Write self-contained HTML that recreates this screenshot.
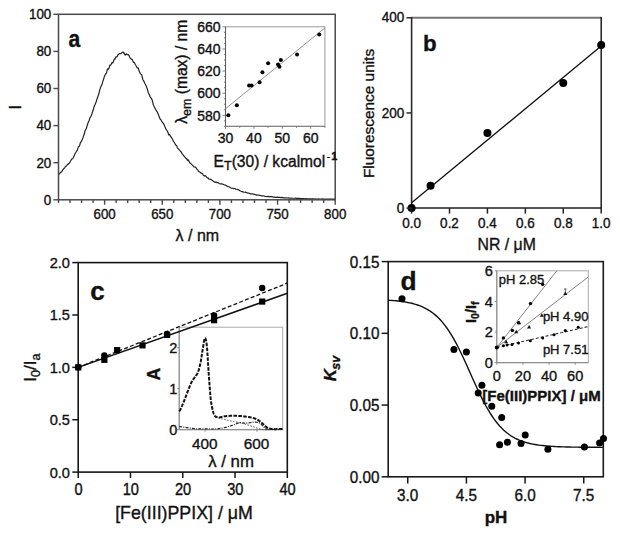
<!DOCTYPE html>
<html><head><meta charset="utf-8"><style>
html,body{margin:0;padding:0;background:#fff;}
body{width:620px;height:536px;overflow:hidden;}
svg{display:block;font-family:"Liberation Sans",sans-serif;}
text{stroke:#111;stroke-width:0.35px;paint-order:stroke;}
</style></head><body>
<svg width="620" height="536" viewBox="0 0 620 536">
<rect width="620" height="536" fill="#fff"/>
<polyline points="58.50,174.42 59.54,173.91 60.58,172.28 61.61,171.86 62.65,169.95 63.69,168.82 64.73,167.89 65.42,166.40 66.46,165.99 67.49,164.37 68.53,163.85 69.57,162.73 70.61,161.05 71.64,159.14 72.68,158.80 73.26,157.76 74.29,155.40 75.33,153.01 76.37,151.65 77.41,149.87 78.45,146.67 79.48,146.06 80.52,142.22 81.10,141.95 82.13,139.73 83.17,137.16 84.21,134.06 85.25,130.22 86.29,128.67 87.32,124.98 88.36,122.02 88.94,121.06 89.97,117.90 91.01,116.19 92.05,113.42 93.09,110.29 94.13,106.39 95.16,104.22 96.20,101.77 96.78,99.61 97.81,96.70 98.85,93.83 99.89,89.34 100.93,86.43 101.96,84.59 103.00,80.86 103.35,80.08 104.39,76.45 105.42,74.26 106.46,73.04 107.50,68.83 108.54,69.17 109.57,66.48 109.80,65.14 110.84,65.05 111.88,62.68 112.92,62.83 113.96,59.98 114.99,58.61 114.99,59.16 116.03,56.74 117.07,56.88 118.11,54.45 119.03,53.90 120.07,53.49 121.10,53.61 122.14,52.40 123.18,52.15 124.22,53.70 124.22,53.14 125.25,55.23 126.29,53.82 127.33,54.74 128.14,54.59 129.17,55.87 130.21,58.35 131.25,59.07 132.29,59.35 133.32,62.41 134.36,62.38 135.17,64.22 136.21,66.04 137.24,67.95 138.28,67.82 139.32,71.64 140.36,73.55 140.70,73.96 141.74,74.88 142.78,79.47 143.82,81.06 144.85,83.46 145.89,85.26 146.93,88.04 147.16,88.49 148.20,92.46 149.23,94.57 150.27,97.16 151.31,98.32 152.35,100.61 153.39,105.02 153.73,105.78 154.77,107.73 155.81,109.83 156.84,111.36 157.88,113.24 158.92,116.08 159.96,118.73 160.99,119.84 161.57,121.06 162.61,122.62 163.65,123.77 164.68,126.28 165.72,128.57 166.76,130.24 167.80,131.96 168.83,134.98 169.41,134.27 170.45,136.18 171.49,137.58 172.52,139.25 173.56,141.50 174.60,142.97 175.64,145.01 176.67,145.61 177.25,147.53 178.29,148.77 179.33,149.81 180.36,151.21 181.40,152.25 182.44,154.09 183.48,155.51 184.51,156.59 185.55,157.96 186.59,158.80 187.63,160.52 187.74,159.34 188.78,160.91 189.82,162.74 190.85,163.68 191.89,164.61 192.93,165.63 193.97,166.99 195.01,166.97 196.04,167.75 197.08,169.42 198.12,170.33 198.12,170.86 199.16,171.73 200.19,172.31 201.23,173.28 202.27,173.43 203.31,175.08 204.34,176.04 205.38,175.68 206.42,176.90 207.46,178.01 208.49,178.17 208.61,178.82 209.65,179.10 210.69,179.31 211.72,180.03 212.76,180.73 213.80,181.66 214.84,182.02 215.07,182.34 216.10,182.12 217.14,182.70 218.18,182.76 219.22,183.51 220.25,183.93 221.29,183.72 222.21,183.94 223.25,184.37 224.29,184.75 225.33,185.09 226.36,185.54 227.40,186.38 228.44,186.51 229.48,187.04 230.52,187.72 231.55,188.10 232.59,188.26 233.63,188.64 233.74,188.33 234.78,188.48 235.82,189.26 236.86,189.24 237.89,189.58 238.93,189.98 239.97,190.79 241.01,191.24 242.04,191.58 243.08,191.93 244.12,192.25 245.16,192.26 245.27,192.11 246.31,192.44 247.35,192.95 248.39,193.11 249.42,193.27 250.46,193.95 251.50,193.84 252.54,193.92 253.57,194.21 254.61,194.43 255.65,194.78 256.69,195.13 256.80,194.82 257.84,195.26 258.88,195.20 259.91,195.28 260.95,195.73 261.99,195.87 263.03,195.75 264.07,195.99 265.10,196.37 266.14,196.51 267.18,196.62 267.18,196.28 268.22,196.43 269.25,196.82 270.29,196.62 271.33,196.64 272.37,196.86 273.40,197.07 274.44,197.06 275.48,197.31 276.52,197.42 277.55,197.12 278.59,197.32 278.71,197.38 279.74,197.30 280.78,197.56 281.82,197.47 282.86,197.55 283.90,197.84 284.93,197.89 285.97,197.93 287.01,198.02 288.05,197.96 289.08,198.14 290.12,198.15 290.24,198.25 291.27,198.04 292.31,198.25 293.35,198.25 294.39,198.25 295.42,198.20 296.46,198.38 297.50,198.27 298.54,198.43 299.57,198.46 300.61,198.50 301.65,198.68 302.69,198.60 303.73,198.71 304.76,198.79 305.80,198.61 306.84,198.81 307.88,198.76 308.91,198.73 309.95,198.80 310.99,198.89 312.03,198.87 312.14,198.86 313.18,198.83 314.22,199.01 315.25,198.92 316.29,199.01 317.33,199.02 318.37,198.93 319.41,199.00 320.44,199.01 321.48,198.98 322.52,198.96 323.56,199.07 324.59,199.04 325.63,199.08 326.67,199.09 327.71,199.06 328.74,199.12 329.78,199.11 330.82,199.13 331.86,199.04 332.89,199.10 333.93,199.07 334.97,199.06 335.20,199.20" fill="none" stroke="#222" stroke-width="1.2" stroke-linejoin="round" />
<rect x="58.5" y="14.3" width="276.7" height="185.5" fill="none" stroke="#4a4a4a" stroke-width="1.5"/>
<line x1="53.40" y1="199.80" x2="58.50" y2="199.80" stroke="#4a4a4a" stroke-width="1.4" />
<text x="51.30" y="204.70" font-size="13.4" text-anchor="end" font-weight="normal" font-style="normal" fill="#111" transform="translate(51.30 204.70) scale(1.0 1.04) translate(-51.30 -204.70)" >0</text>
<line x1="53.40" y1="162.70" x2="58.50" y2="162.70" stroke="#4a4a4a" stroke-width="1.4" />
<text x="51.30" y="167.60" font-size="13.4" text-anchor="end" font-weight="normal" font-style="normal" fill="#111" transform="translate(51.30 167.60) scale(1.0 1.04) translate(-51.30 -167.60)" >20</text>
<line x1="53.40" y1="125.60" x2="58.50" y2="125.60" stroke="#4a4a4a" stroke-width="1.4" />
<text x="51.30" y="130.50" font-size="13.4" text-anchor="end" font-weight="normal" font-style="normal" fill="#111" transform="translate(51.30 130.50) scale(1.0 1.04) translate(-51.30 -130.50)" >40</text>
<line x1="53.40" y1="88.50" x2="58.50" y2="88.50" stroke="#4a4a4a" stroke-width="1.4" />
<text x="51.30" y="93.40" font-size="13.4" text-anchor="end" font-weight="normal" font-style="normal" fill="#111" transform="translate(51.30 93.40) scale(1.0 1.04) translate(-51.30 -93.40)" >60</text>
<line x1="53.40" y1="51.40" x2="58.50" y2="51.40" stroke="#4a4a4a" stroke-width="1.4" />
<text x="51.30" y="56.30" font-size="13.4" text-anchor="end" font-weight="normal" font-style="normal" fill="#111" transform="translate(51.30 56.30) scale(1.0 1.04) translate(-51.30 -56.30)" >80</text>
<line x1="53.40" y1="14.30" x2="58.50" y2="14.30" stroke="#4a4a4a" stroke-width="1.4" />
<text x="51.30" y="19.20" font-size="13.4" text-anchor="end" font-weight="normal" font-style="normal" fill="#111" transform="translate(51.30 19.20) scale(1.0 1.04) translate(-51.30 -19.20)" >100</text>
<line x1="58.50" y1="199.80" x2="58.50" y2="203.00" stroke="#4a4a4a" stroke-width="1.4" />
<line x1="70.03" y1="199.80" x2="70.03" y2="203.00" stroke="#4a4a4a" stroke-width="1.4" />
<line x1="81.56" y1="199.80" x2="81.56" y2="203.00" stroke="#4a4a4a" stroke-width="1.4" />
<line x1="93.09" y1="199.80" x2="93.09" y2="203.00" stroke="#4a4a4a" stroke-width="1.4" />
<line x1="104.62" y1="199.80" x2="104.62" y2="204.70" stroke="#4a4a4a" stroke-width="1.4" />
<text x="104.62" y="219.30" font-size="13.3" text-anchor="middle" font-weight="normal" font-style="normal" fill="#111" transform="translate(104.62 219.30) scale(1.0 1.04) translate(-104.62 -219.30)" >600</text>
<line x1="116.15" y1="199.80" x2="116.15" y2="203.00" stroke="#4a4a4a" stroke-width="1.4" />
<line x1="127.67" y1="199.80" x2="127.67" y2="203.00" stroke="#4a4a4a" stroke-width="1.4" />
<line x1="139.20" y1="199.80" x2="139.20" y2="203.00" stroke="#4a4a4a" stroke-width="1.4" />
<line x1="150.73" y1="199.80" x2="150.73" y2="203.00" stroke="#4a4a4a" stroke-width="1.4" />
<line x1="162.26" y1="199.80" x2="162.26" y2="204.70" stroke="#4a4a4a" stroke-width="1.4" />
<text x="162.26" y="219.30" font-size="13.3" text-anchor="middle" font-weight="normal" font-style="normal" fill="#111" transform="translate(162.26 219.30) scale(1.0 1.04) translate(-162.26 -219.30)" >650</text>
<line x1="173.79" y1="199.80" x2="173.79" y2="203.00" stroke="#4a4a4a" stroke-width="1.4" />
<line x1="185.32" y1="199.80" x2="185.32" y2="203.00" stroke="#4a4a4a" stroke-width="1.4" />
<line x1="196.85" y1="199.80" x2="196.85" y2="203.00" stroke="#4a4a4a" stroke-width="1.4" />
<line x1="208.38" y1="199.80" x2="208.38" y2="203.00" stroke="#4a4a4a" stroke-width="1.4" />
<line x1="219.91" y1="199.80" x2="219.91" y2="204.70" stroke="#4a4a4a" stroke-width="1.4" />
<text x="219.91" y="219.30" font-size="13.3" text-anchor="middle" font-weight="normal" font-style="normal" fill="#111" transform="translate(219.91 219.30) scale(1.0 1.04) translate(-219.91 -219.30)" >700</text>
<line x1="231.44" y1="199.80" x2="231.44" y2="203.00" stroke="#4a4a4a" stroke-width="1.4" />
<line x1="242.97" y1="199.80" x2="242.97" y2="203.00" stroke="#4a4a4a" stroke-width="1.4" />
<line x1="254.50" y1="199.80" x2="254.50" y2="203.00" stroke="#4a4a4a" stroke-width="1.4" />
<line x1="266.02" y1="199.80" x2="266.02" y2="203.00" stroke="#4a4a4a" stroke-width="1.4" />
<line x1="277.55" y1="199.80" x2="277.55" y2="204.70" stroke="#4a4a4a" stroke-width="1.4" />
<text x="277.55" y="219.30" font-size="13.3" text-anchor="middle" font-weight="normal" font-style="normal" fill="#111" transform="translate(277.55 219.30) scale(1.0 1.04) translate(-277.55 -219.30)" >750</text>
<line x1="289.08" y1="199.80" x2="289.08" y2="203.00" stroke="#4a4a4a" stroke-width="1.4" />
<line x1="300.61" y1="199.80" x2="300.61" y2="203.00" stroke="#4a4a4a" stroke-width="1.4" />
<line x1="312.14" y1="199.80" x2="312.14" y2="203.00" stroke="#4a4a4a" stroke-width="1.4" />
<line x1="323.67" y1="199.80" x2="323.67" y2="203.00" stroke="#4a4a4a" stroke-width="1.4" />
<line x1="335.20" y1="199.80" x2="335.20" y2="204.70" stroke="#4a4a4a" stroke-width="1.4" />
<text x="335.20" y="219.30" font-size="13.3" text-anchor="middle" font-weight="normal" font-style="normal" fill="#111" transform="translate(335.20 219.30) scale(1.0 1.04) translate(-335.20 -219.30)" >800</text>
<text transform="translate(20.70 107.40) rotate(-90)" x="0" y="0" font-size="16" text-anchor="middle" font-weight="normal" font-style="normal" fill="#111">I</text>
<text x="197.40" y="241.00" font-size="16" text-anchor="middle" font-weight="normal" font-style="normal" fill="#111" >λ / nm</text>
<text x="68.60" y="47.00" font-size="24" text-anchor="start" font-weight="bold" font-style="normal" fill="#111" transform="translate(68.60 47.00) scale(0.88 1.0) translate(-68.60 -47.00)" >a</text>
<rect x="225.5" y="26.8" width="99.39999999999998" height="99.60000000000001" fill="#fff" stroke="#9a9a9a" stroke-width="1"/>
<line x1="225.50" y1="26.80" x2="225.50" y2="126.40" stroke="#606060" stroke-width="1.1" />
<line x1="225.50" y1="126.40" x2="324.90" y2="126.40" stroke="#858585" stroke-width="1.1" />
<line x1="224.00" y1="126.40" x2="225.50" y2="126.40" stroke="#666" stroke-width="0.8" />
<line x1="224.00" y1="120.87" x2="225.50" y2="120.87" stroke="#666" stroke-width="0.8" />
<line x1="222.50" y1="115.33" x2="225.50" y2="115.33" stroke="#666" stroke-width="0.8" />
<line x1="224.00" y1="109.80" x2="225.50" y2="109.80" stroke="#666" stroke-width="0.8" />
<line x1="224.00" y1="104.27" x2="225.50" y2="104.27" stroke="#666" stroke-width="0.8" />
<line x1="224.00" y1="98.73" x2="225.50" y2="98.73" stroke="#666" stroke-width="0.8" />
<line x1="222.50" y1="93.20" x2="225.50" y2="93.20" stroke="#666" stroke-width="0.8" />
<line x1="224.00" y1="87.67" x2="225.50" y2="87.67" stroke="#666" stroke-width="0.8" />
<line x1="224.00" y1="82.13" x2="225.50" y2="82.13" stroke="#666" stroke-width="0.8" />
<line x1="224.00" y1="76.60" x2="225.50" y2="76.60" stroke="#666" stroke-width="0.8" />
<line x1="222.50" y1="71.07" x2="225.50" y2="71.07" stroke="#666" stroke-width="0.8" />
<line x1="224.00" y1="65.53" x2="225.50" y2="65.53" stroke="#666" stroke-width="0.8" />
<line x1="224.00" y1="60.00" x2="225.50" y2="60.00" stroke="#666" stroke-width="0.8" />
<line x1="224.00" y1="54.47" x2="225.50" y2="54.47" stroke="#666" stroke-width="0.8" />
<line x1="222.50" y1="48.93" x2="225.50" y2="48.93" stroke="#666" stroke-width="0.8" />
<line x1="224.00" y1="43.40" x2="225.50" y2="43.40" stroke="#666" stroke-width="0.8" />
<line x1="224.00" y1="37.87" x2="225.50" y2="37.87" stroke="#666" stroke-width="0.8" />
<line x1="224.00" y1="32.33" x2="225.50" y2="32.33" stroke="#666" stroke-width="0.8" />
<line x1="222.50" y1="26.80" x2="225.50" y2="26.80" stroke="#666" stroke-width="0.8" />
<text x="220.60" y="120.63" font-size="14" text-anchor="end" font-weight="normal" font-style="normal" fill="#111" transform="translate(220.60 120.63) scale(1.0 1.04) translate(-220.60 -120.63)" >580</text>
<text x="220.60" y="98.50" font-size="14" text-anchor="end" font-weight="normal" font-style="normal" fill="#111" transform="translate(220.60 98.50) scale(1.0 1.04) translate(-220.60 -98.50)" >600</text>
<text x="220.60" y="76.37" font-size="14" text-anchor="end" font-weight="normal" font-style="normal" fill="#111" transform="translate(220.60 76.37) scale(1.0 1.04) translate(-220.60 -76.37)" >620</text>
<text x="220.60" y="54.23" font-size="14" text-anchor="end" font-weight="normal" font-style="normal" fill="#111" transform="translate(220.60 54.23) scale(1.0 1.04) translate(-220.60 -54.23)" >640</text>
<text x="220.60" y="32.10" font-size="14" text-anchor="end" font-weight="normal" font-style="normal" fill="#111" transform="translate(220.60 32.10) scale(1.0 1.04) translate(-220.60 -32.10)" >660</text>
<line x1="225.50" y1="126.40" x2="225.50" y2="128.90" stroke="#666" stroke-width="0.8" />
<line x1="239.70" y1="126.40" x2="239.70" y2="127.90" stroke="#666" stroke-width="0.8" />
<line x1="253.90" y1="126.40" x2="253.90" y2="128.90" stroke="#666" stroke-width="0.8" />
<line x1="268.10" y1="126.40" x2="268.10" y2="127.90" stroke="#666" stroke-width="0.8" />
<line x1="282.30" y1="126.40" x2="282.30" y2="128.90" stroke="#666" stroke-width="0.8" />
<line x1="296.50" y1="126.40" x2="296.50" y2="127.90" stroke="#666" stroke-width="0.8" />
<line x1="310.70" y1="126.40" x2="310.70" y2="128.90" stroke="#666" stroke-width="0.8" />
<line x1="324.90" y1="126.40" x2="324.90" y2="127.90" stroke="#666" stroke-width="0.8" />
<text x="225.50" y="143.00" font-size="14" text-anchor="middle" font-weight="normal" font-style="normal" fill="#111" transform="translate(225.50 143.00) scale(1.0 1.04) translate(-225.50 -143.00)" >30</text>
<text x="253.90" y="143.00" font-size="14" text-anchor="middle" font-weight="normal" font-style="normal" fill="#111" transform="translate(253.90 143.00) scale(1.0 1.04) translate(-253.90 -143.00)" >40</text>
<text x="282.30" y="143.00" font-size="14" text-anchor="middle" font-weight="normal" font-style="normal" fill="#111" transform="translate(282.30 143.00) scale(1.0 1.04) translate(-282.30 -143.00)" >50</text>
<text x="310.70" y="143.00" font-size="14" text-anchor="middle" font-weight="normal" font-style="normal" fill="#111" transform="translate(310.70 143.00) scale(1.0 1.04) translate(-310.70 -143.00)" >60</text>
<line x1="225.50" y1="108.69" x2="324.90" y2="27.91" stroke="#888" stroke-width="0.9" />
<circle cx="228.34" cy="115.33" r="2.0" fill="#000"/>
<circle cx="236.86" cy="105.37" r="2.0" fill="#000"/>
<circle cx="249.07" cy="85.45" r="2.0" fill="#000"/>
<circle cx="251.63" cy="85.45" r="2.0" fill="#000"/>
<circle cx="259.58" cy="82.13" r="2.0" fill="#000"/>
<circle cx="262.42" cy="72.17" r="2.0" fill="#000"/>
<circle cx="268.10" cy="63.32" r="2.0" fill="#000"/>
<circle cx="278.04" cy="64.43" r="2.0" fill="#000"/>
<circle cx="279.46" cy="66.64" r="2.0" fill="#000"/>
<circle cx="280.88" cy="60.00" r="2.0" fill="#000"/>
<circle cx="297.07" cy="54.47" r="2.0" fill="#000"/>
<circle cx="319.22" cy="34.55" r="2.0" fill="#000"/>
<text transform="translate(187.30 71.80) rotate(-90)" x="0" y="0" font-size="15.6" text-anchor="middle" font-weight="normal" font-style="normal" fill="#111">λ<tspan font-size="12.5" dy="3.8">em</tspan><tspan dy="-3.8"> (max) / nm</tspan></text>
<text x="213.60" y="167.20" font-size="15.6" text-anchor="start" font-weight="normal" font-style="normal" fill="#111" >E<tspan font-size="12.5" dy="3">T</tspan><tspan dy="-3">(30) / kcalmol</tspan><tspan font-size="10.5" dy="-7.6" dx="1.5">-</tspan><tspan font-size="11" font-weight="bold" dx="1">1</tspan></text>
<line x1="411.60" y1="17.80" x2="601.20" y2="17.80" stroke="#777" stroke-width="1.9" />
<line x1="601.20" y1="16.90" x2="601.20" y2="208.10" stroke="#1e1e1e" stroke-width="1.5" />
<line x1="411.60" y1="208.10" x2="601.95" y2="208.10" stroke="#1e1e1e" stroke-width="1.5" />
<line x1="411.60" y1="16.90" x2="411.60" y2="208.10" stroke="#2a2a2a" stroke-width="1.6" />
<line x1="411.60" y1="202.63" x2="601.20" y2="46.11" stroke="#111" stroke-width="1.3" />
<circle cx="411.60" cy="208.10" r="4" fill="#000"/>
<circle cx="430.56" cy="185.74" r="4" fill="#000"/>
<circle cx="487.44" cy="132.93" r="4" fill="#000"/>
<circle cx="563.28" cy="82.98" r="4" fill="#000"/>
<circle cx="601.20" cy="44.92" r="4" fill="#000"/>
<line x1="406.50" y1="208.10" x2="411.60" y2="208.10" stroke="#2a2a2a" stroke-width="1.5" />
<text x="404.20" y="212.70" font-size="13.5" text-anchor="end" font-weight="normal" font-style="normal" fill="#111" transform="translate(404.20 212.70) scale(1.0 1.06) translate(-404.20 -212.70)" >0</text>
<line x1="406.50" y1="112.95" x2="411.60" y2="112.95" stroke="#2a2a2a" stroke-width="1.5" />
<text x="404.20" y="117.55" font-size="13.5" text-anchor="end" font-weight="normal" font-style="normal" fill="#111" transform="translate(404.20 117.55) scale(1.0 1.06) translate(-404.20 -117.55)" >200</text>
<line x1="406.50" y1="17.80" x2="411.60" y2="17.80" stroke="#2a2a2a" stroke-width="1.5" />
<text x="404.20" y="22.40" font-size="13.5" text-anchor="end" font-weight="normal" font-style="normal" fill="#111" transform="translate(404.20 22.40) scale(1.0 1.06) translate(-404.20 -22.40)" >400</text>
<line x1="411.60" y1="208.10" x2="411.60" y2="213.60" stroke="#222" stroke-width="1.5" />
<text x="411.60" y="227.90" font-size="13.5" text-anchor="middle" font-weight="normal" font-style="normal" fill="#111" transform="translate(411.60 227.90) scale(1.0 1.06) translate(-411.60 -227.90)" >0.0</text>
<line x1="449.52" y1="208.10" x2="449.52" y2="213.60" stroke="#222" stroke-width="1.5" />
<text x="449.52" y="227.90" font-size="13.5" text-anchor="middle" font-weight="normal" font-style="normal" fill="#111" transform="translate(449.52 227.90) scale(1.0 1.06) translate(-449.52 -227.90)" >0.2</text>
<line x1="487.44" y1="208.10" x2="487.44" y2="213.60" stroke="#222" stroke-width="1.5" />
<text x="487.44" y="227.90" font-size="13.5" text-anchor="middle" font-weight="normal" font-style="normal" fill="#111" transform="translate(487.44 227.90) scale(1.0 1.06) translate(-487.44 -227.90)" >0.4</text>
<line x1="525.36" y1="208.10" x2="525.36" y2="213.60" stroke="#222" stroke-width="1.5" />
<text x="525.36" y="227.90" font-size="13.5" text-anchor="middle" font-weight="normal" font-style="normal" fill="#111" transform="translate(525.36 227.90) scale(1.0 1.06) translate(-525.36 -227.90)" >0.6</text>
<line x1="563.28" y1="208.10" x2="563.28" y2="213.60" stroke="#222" stroke-width="1.5" />
<text x="563.28" y="227.90" font-size="13.5" text-anchor="middle" font-weight="normal" font-style="normal" fill="#111" transform="translate(563.28 227.90) scale(1.0 1.06) translate(-563.28 -227.90)" >0.8</text>
<line x1="601.20" y1="208.10" x2="601.20" y2="213.60" stroke="#222" stroke-width="1.5" />
<text x="601.20" y="227.90" font-size="13.5" text-anchor="middle" font-weight="normal" font-style="normal" fill="#111" transform="translate(601.20 227.90) scale(1.0 1.06) translate(-601.20 -227.90)" >1.0</text>
<text transform="translate(373.90 113.50) rotate(-90)" x="0" y="0" font-size="15.4" text-anchor="middle" font-weight="normal" font-style="normal" fill="#111">Fluorescence units</text>
<text x="506.70" y="250.30" font-size="15.8" text-anchor="middle" font-weight="normal" font-style="normal" fill="#111" >NR / μM</text>
<text x="422.90" y="50.50" font-size="22.3" text-anchor="start" font-weight="bold" font-style="normal" fill="#111" >b</text>
<rect x="78.2" y="262.6" width="209.10000000000002" height="209.5" fill="none" stroke="#151515" stroke-width="1.6"/>
<line x1="72.30" y1="472.10" x2="78.20" y2="472.10" stroke="#151515" stroke-width="1.5" />
<text x="70.00" y="477.60" font-size="14.6" text-anchor="end" font-weight="normal" font-style="normal" fill="#111" >0.0</text>
<line x1="72.30" y1="419.73" x2="78.20" y2="419.73" stroke="#151515" stroke-width="1.5" />
<text x="70.00" y="425.23" font-size="14.6" text-anchor="end" font-weight="normal" font-style="normal" fill="#111" >0.5</text>
<line x1="72.30" y1="367.35" x2="78.20" y2="367.35" stroke="#151515" stroke-width="1.5" />
<text x="70.00" y="372.85" font-size="14.6" text-anchor="end" font-weight="normal" font-style="normal" fill="#111" >1.0</text>
<line x1="72.30" y1="314.98" x2="78.20" y2="314.98" stroke="#151515" stroke-width="1.5" />
<text x="70.00" y="320.48" font-size="14.6" text-anchor="end" font-weight="normal" font-style="normal" fill="#111" >1.5</text>
<line x1="72.30" y1="262.60" x2="78.20" y2="262.60" stroke="#151515" stroke-width="1.5" />
<text x="70.00" y="268.10" font-size="14.6" text-anchor="end" font-weight="normal" font-style="normal" fill="#111" >2.0</text>
<line x1="78.20" y1="472.10" x2="78.20" y2="478.00" stroke="#151515" stroke-width="1.5" />
<text x="78.50" y="494.80" font-size="14.6" text-anchor="middle" font-weight="normal" font-style="normal" fill="#111" transform="translate(78.50 494.80) scale(1.0 1.12) translate(-78.50 -494.80)" >0</text>
<line x1="130.48" y1="472.10" x2="130.48" y2="478.00" stroke="#151515" stroke-width="1.5" />
<text x="130.78" y="494.80" font-size="14.6" text-anchor="middle" font-weight="normal" font-style="normal" fill="#111" transform="translate(130.78 494.80) scale(1.0 1.12) translate(-130.78 -494.80)" >10</text>
<line x1="182.75" y1="472.10" x2="182.75" y2="478.00" stroke="#151515" stroke-width="1.5" />
<text x="183.05" y="494.80" font-size="14.6" text-anchor="middle" font-weight="normal" font-style="normal" fill="#111" transform="translate(183.05 494.80) scale(1.0 1.12) translate(-183.05 -494.80)" >20</text>
<line x1="235.03" y1="472.10" x2="235.03" y2="478.00" stroke="#151515" stroke-width="1.5" />
<text x="235.33" y="494.80" font-size="14.6" text-anchor="middle" font-weight="normal" font-style="normal" fill="#111" transform="translate(235.33 494.80) scale(1.0 1.12) translate(-235.33 -494.80)" >30</text>
<line x1="287.30" y1="472.10" x2="287.30" y2="478.00" stroke="#151515" stroke-width="1.5" />
<text x="287.60" y="494.80" font-size="14.6" text-anchor="middle" font-weight="normal" font-style="normal" fill="#111" transform="translate(287.60 494.80) scale(1.0 1.12) translate(-287.60 -494.80)" >40</text>
<text transform="translate(36.40 367.60) rotate(-90)" x="0" y="0" font-size="17" text-anchor="middle" font-weight="normal" font-style="normal" fill="#111">I<tspan font-size="12.5" dy="3.6">0</tspan><tspan dy="-3.6">/I</tspan><tspan font-size="12.5" dy="3.6">a</tspan></text>
<text x="184.00" y="519.00" font-size="17.8" text-anchor="middle" font-weight="normal" font-style="normal" fill="#111" >[Fe(III)PPIX] / μM</text>
<text x="90.20" y="300.40" font-size="26" text-anchor="start" font-weight="bold" font-style="normal" fill="#111" >c</text>
<rect x="179.2" y="327.2" width="103.5" height="102.5" fill="#fff" stroke="#aaa" stroke-width="1"/>
<line x1="179.20" y1="327.20" x2="179.20" y2="429.70" stroke="#888" stroke-width="1" />
<line x1="179.20" y1="429.70" x2="282.70" y2="429.70" stroke="#888" stroke-width="1" />
<line x1="177.20" y1="429.70" x2="179.20" y2="429.70" stroke="#888" stroke-width="1" />
<text x="177.30" y="435.10" font-size="14.5" text-anchor="end" font-weight="normal" font-style="normal" fill="#111" transform="translate(177.30 435.10) scale(1.0 1.03) translate(-177.30 -435.10)" >0</text>
<line x1="177.20" y1="388.70" x2="179.20" y2="388.70" stroke="#888" stroke-width="1" />
<text x="177.30" y="394.10" font-size="14.5" text-anchor="end" font-weight="normal" font-style="normal" fill="#111" transform="translate(177.30 394.10) scale(1.0 1.03) translate(-177.30 -394.10)" >1</text>
<line x1="177.20" y1="347.70" x2="179.20" y2="347.70" stroke="#888" stroke-width="1" />
<text x="177.30" y="353.10" font-size="14.5" text-anchor="end" font-weight="normal" font-style="normal" fill="#111" transform="translate(177.30 353.10) scale(1.0 1.03) translate(-177.30 -353.10)" >2</text>
<line x1="205.07" y1="429.70" x2="205.07" y2="431.70" stroke="#888" stroke-width="1" />
<text x="204.88" y="448.70" font-size="15.3" text-anchor="middle" font-weight="normal" font-style="normal" fill="#111" >400</text>
<line x1="256.82" y1="429.70" x2="256.82" y2="431.70" stroke="#888" stroke-width="1" />
<text x="256.62" y="448.70" font-size="15.3" text-anchor="middle" font-weight="normal" font-style="normal" fill="#111" >600</text>
<text transform="translate(160.40 374.20) rotate(-90)" x="0" y="0" font-size="17.5" text-anchor="middle" font-weight="bold" font-style="normal" fill="#111">A</text>
<text x="231.10" y="467.40" font-size="16.8" text-anchor="middle" font-weight="normal" font-style="normal" fill="#111" >λ / nm</text>
<polyline points="179.20,411.25 179.46,410.96 179.72,410.61 179.98,410.21 180.23,409.77 180.49,409.28 180.75,408.77 181.01,408.22 181.27,407.65 181.53,407.05 181.79,406.44 182.05,405.83 182.30,405.20 182.56,404.58 182.82,403.96 183.08,403.35 183.21,403.05 183.47,402.45 183.73,401.83 183.99,401.20 184.25,400.55 184.50,399.90 184.76,399.23 185.02,398.56 185.28,397.88 185.54,397.20 185.80,396.52 186.06,395.84 186.32,395.15 186.57,394.48 186.83,393.80 187.09,393.13 187.22,392.80 187.48,392.15 187.74,391.49 188.00,390.82 188.26,390.14 188.51,389.46 188.77,388.78 189.03,388.09 189.29,387.42 189.55,386.75 189.81,386.09 190.07,385.45 190.33,384.82 190.58,384.22 190.84,383.64 191.10,383.08 191.36,382.55 191.62,382.05 191.88,381.57 192.14,381.11 192.40,380.68 192.66,380.26 192.91,379.85 193.17,379.47 193.43,379.09 193.69,378.73 193.95,378.38 194.21,378.03 194.47,377.70 194.72,377.37 194.98,377.04 195.24,376.72 195.50,376.40 195.76,375.92 196.02,375.52 196.28,375.17 196.54,374.86 196.79,374.54 197.05,374.20 197.31,373.80 197.57,373.32 197.83,372.72 197.99,372.30 198.24,371.57 198.50,370.78 198.76,369.91 199.02,368.99 199.28,368.02 199.54,366.99 199.80,365.93 200.06,364.82 200.31,363.68 200.57,362.52 200.68,362.05 200.94,360.61 201.19,359.04 201.45,357.39 201.71,355.68 201.97,353.97 202.23,352.27 202.49,350.64 202.75,349.10 203.00,347.70 203.26,345.95 203.52,344.16 203.78,342.43 204.04,340.88 204.30,339.60 204.56,338.69 204.82,338.27 205.07,338.23 205.33,338.41 205.59,338.84 205.85,339.58 206.11,340.66 206.37,342.13 206.63,344.04 206.81,345.65 207.07,348.38 207.33,351.75 207.58,355.59 207.84,359.74 208.10,364.02 208.36,368.28 208.62,372.35 208.88,376.06 208.90,376.40 209.16,379.98 209.42,383.51 209.68,386.96 209.94,390.29 210.20,393.47 210.46,396.46 210.72,399.22 210.90,401.00 211.16,402.59 211.41,404.09 211.67,405.49 211.93,406.80 212.19,408.03 212.45,409.17 212.71,410.23 212.97,411.22 213.23,412.14 213.48,412.98 213.74,413.76 213.87,414.12 214.13,414.63 214.39,415.08 214.65,415.48 214.91,415.82 215.17,416.11 215.42,416.36 215.68,416.57 215.94,416.74 216.20,416.89 216.46,417.01 216.72,417.11 216.98,417.19 217.24,417.26 217.50,417.33 217.75,417.40 218.01,417.43 218.27,417.45 218.53,417.46 218.79,417.46 219.05,417.45 219.31,417.43 219.56,417.41 219.82,417.37 220.08,417.34 220.34,417.29 220.60,417.25 220.86,417.19 221.12,417.14 221.38,417.08 221.63,417.02 221.89,416.95 222.15,416.89 222.41,416.82 222.67,416.75 222.93,416.69 223.19,416.62 223.45,416.56 223.70,416.49 223.96,416.44 224.22,416.38 224.48,416.33 224.74,416.28 225.00,416.24 225.26,416.20 225.52,416.17 225.77,416.15 226.03,416.13 226.29,416.11 226.55,416.09 226.81,416.07 227.07,416.05 227.33,416.03 227.59,416.01 227.84,415.99 228.10,415.97 228.36,415.95 228.62,415.94 228.88,415.92 229.14,415.90 229.40,415.88 229.66,415.87 229.91,415.85 230.17,415.84 230.43,415.82 230.69,415.81 230.95,415.80 231.21,415.79 231.47,415.78 231.73,415.77 231.98,415.76 232.24,415.75 232.50,415.74 232.76,415.74 233.02,415.73 233.28,415.73 233.54,415.73 233.80,415.72 234.06,415.72 234.31,415.72 234.57,415.73 234.83,415.73 235.09,415.74 235.35,415.74 235.61,415.75 235.87,415.76 236.12,415.77 236.38,415.78 236.64,415.79 236.90,415.80 237.16,415.81 237.42,415.83 237.68,415.84 237.94,415.86 238.19,415.87 238.45,415.89 238.71,415.91 238.97,415.93 239.23,415.94 239.49,415.96 239.75,415.99 240.01,416.01 240.26,416.03 240.52,416.05 240.78,416.07 241.04,416.10 241.30,416.12 241.56,416.15 241.82,416.17 242.08,416.20 242.33,416.23 242.59,416.25 242.85,416.28 243.11,416.31 243.37,416.34 243.63,416.37 243.89,416.40 244.15,416.43 244.40,416.46 244.66,416.49 244.92,416.52 245.18,416.55 245.44,416.58 245.70,416.61 245.96,416.64 246.22,416.68 246.47,416.71 246.73,416.74 246.99,416.77 247.25,416.81 247.51,416.84 247.77,416.87 248.03,416.90 248.29,416.94 248.54,416.97 248.70,416.99 248.96,417.04 249.22,417.10 249.48,417.15 249.74,417.21 249.99,417.26 250.25,417.32 250.51,417.38 250.77,417.43 251.03,417.49 251.29,417.55 251.55,417.61 251.81,417.67 252.06,417.73 252.32,417.79 252.58,417.86 252.84,417.92 253.10,417.99 253.36,418.06 253.62,418.13 253.88,418.20 254.13,418.27 254.39,418.35 254.65,418.43 254.91,418.51 255.17,418.59 255.43,418.67 255.69,418.76 255.95,418.85 256.20,418.94 256.46,419.03 256.49,419.04 256.75,419.19 257.01,419.34 257.26,419.50 257.52,419.67 257.78,419.84 258.04,420.01 258.30,420.19 258.56,420.37 258.82,420.56 259.08,420.75 259.33,420.94 259.59,421.14 259.85,421.34 260.11,421.54 260.37,421.74 260.63,421.95 260.89,422.15 261.15,422.36 261.40,422.56 261.61,422.73 261.87,422.94 262.13,423.16 262.39,423.39 262.65,423.62 262.91,423.86 263.16,424.11 263.42,424.35 263.68,424.60 263.94,424.85 264.20,425.10 264.46,425.35 264.72,425.59 264.98,425.83 265.23,426.06 265.49,426.28 265.75,426.50 266.01,426.70 266.27,426.89 266.53,427.07 266.79,427.24 267.05,427.40 267.30,427.55 267.56,427.69 267.82,427.82 268.08,427.95 268.34,428.06 268.60,428.18 268.86,428.28 269.12,428.38 269.37,428.47 269.63,428.55 269.89,428.63 270.15,428.71 270.41,428.77 270.67,428.84 270.93,428.90 271.19,428.96 271.44,429.01 271.70,429.06 271.83,429.08 272.09,429.12 272.35,429.16 272.61,429.18 272.87,429.20 273.13,429.21 273.38,429.22 273.64,429.23 273.90,429.23 274.16,429.23 274.42,429.22 274.68,429.21 274.94,429.20 275.20,429.19 275.45,429.18 275.71,429.16 275.97,429.15 276.23,429.14 276.49,429.12 276.75,429.11 277.01,429.10 277.27,429.09 277.52,429.08 277.78,429.08 278.04,429.07 278.30,429.06 278.56,429.05 278.82,429.04 279.08,429.03 279.34,429.02 279.59,429.01 279.85,429.00 280.11,428.98 280.37,428.97 280.63,428.96 280.89,428.94 281.15,428.93 281.41,428.92 281.66,428.91 281.92,428.90 282.18,428.89 282.44,428.89 282.70,428.88" fill="none" stroke="#111" stroke-width="2.0" stroke-linejoin="round" stroke-dasharray="3.6 1.3"/>
<polyline points="179.20,426.62 179.46,426.64 179.72,426.66 179.98,426.68 180.23,426.71 180.49,426.73 180.75,426.76 181.01,426.79 181.27,426.82 181.53,426.85 181.79,426.88 182.05,426.91 182.30,426.95 182.56,426.98 182.82,427.02 183.08,427.05 183.34,427.09 183.60,427.13 183.86,427.17 184.12,427.21 184.38,427.24 184.63,427.28 184.89,427.32 185.15,427.36 185.41,427.40 185.67,427.44 185.93,427.47 186.19,427.51 186.44,427.55 186.70,427.58 186.96,427.62 187.22,427.65 187.48,427.68 187.74,427.72 188.00,427.75 188.26,427.78 188.51,427.82 188.77,427.85 189.03,427.89 189.29,427.93 189.55,427.96 189.81,428.00 190.07,428.03 190.33,428.07 190.58,428.11 190.84,428.14 191.10,428.18 191.36,428.21 191.62,428.25 191.88,428.28 192.14,428.32 192.40,428.35 192.66,428.38 192.91,428.42 193.17,428.45 193.43,428.48 193.69,428.51 193.95,428.53 194.21,428.56 194.47,428.59 194.72,428.61 194.98,428.63 195.24,428.65 195.50,428.68 195.76,428.69 196.02,428.70 196.28,428.72 196.54,428.73 196.79,428.74 197.05,428.75 197.31,428.76 197.57,428.77 197.83,428.78 198.09,428.79 198.35,428.80 198.61,428.80 198.86,428.81 199.12,428.82 199.38,428.82 199.64,428.83 199.90,428.83 200.16,428.83 200.42,428.84 200.68,428.84 200.94,428.84 201.19,428.85 201.45,428.85 201.71,428.85 201.97,428.85 202.23,428.86 202.49,428.86 202.75,428.86 203.00,428.86 203.26,428.86 203.52,428.86 203.78,428.87 204.04,428.87 204.30,428.87 204.56,428.87 204.82,428.87 205.07,428.87 205.33,428.88 205.59,428.88 205.85,428.88 206.11,428.88 206.37,428.89 206.63,428.89 206.89,428.90 207.14,428.90 207.40,428.91 207.66,428.91 207.92,428.92 208.18,428.93 208.44,428.93 208.70,428.94 208.96,428.95 209.21,428.95 209.47,428.96 209.73,428.97 209.99,428.97 210.25,428.98 210.51,428.99 210.77,428.99 211.03,429.00 211.28,429.00 211.54,429.00 211.80,429.01 212.06,429.01 212.32,429.01 212.58,429.01 212.84,429.01 213.10,429.01 213.35,429.00 213.61,429.00 213.87,428.99 214.13,428.99 214.39,428.98 214.65,428.97 214.91,428.96 215.17,428.95 215.42,428.93 215.68,428.92 215.94,428.90 216.20,428.88 216.46,428.86 216.72,428.84 216.98,428.81 217.24,428.78 217.50,428.76 217.75,428.73 218.01,428.70 218.27,428.67 218.53,428.63 218.79,428.60 219.05,428.57 219.31,428.53 219.56,428.49 219.82,428.45 220.08,428.42 220.34,428.38 220.60,428.33 220.86,428.29 221.12,428.25 221.38,428.20 221.63,428.16 221.89,428.11 222.15,428.07 222.41,428.02 222.67,427.97 222.93,427.92 223.19,427.87 223.45,427.82 223.70,427.77 223.96,427.72 224.22,427.67 224.48,427.62 224.74,427.57 225.00,427.51 225.26,427.46 225.52,427.40 225.77,427.35 226.03,427.30 226.29,427.24 226.55,427.17 226.81,427.10 227.07,427.03 227.33,426.95 227.59,426.87 227.84,426.79 228.10,426.71 228.36,426.63 228.62,426.54 228.88,426.46 229.14,426.37 229.40,426.28 229.66,426.19 229.91,426.10 230.17,426.01 230.43,425.92 230.69,425.83 230.95,425.74 231.21,425.65 231.47,425.56 231.73,425.47 231.98,425.38 232.24,425.29 232.50,425.21 232.76,425.12 233.02,425.04 233.28,424.96 233.54,424.88 233.80,424.80 234.06,424.72 234.31,424.65 234.57,424.57 234.83,424.46 235.09,424.35 235.35,424.23 235.61,424.12 235.87,424.00 236.12,423.89 236.38,423.78 236.64,423.67 236.90,423.56 237.16,423.46 237.42,423.36 237.68,423.27 237.94,423.18 238.19,423.09 238.45,423.01 238.71,422.94 238.97,422.88 239.23,422.82 239.49,422.77 239.75,422.73 240.01,422.71 240.26,422.69 240.52,422.68 240.78,422.68 241.04,422.69 241.30,422.71 241.56,422.72 241.82,422.75 242.08,422.78 242.33,422.81 242.59,422.84 242.85,422.87 243.11,422.91 243.37,422.94 243.63,422.98 243.89,423.01 244.15,423.04 244.40,423.07 244.66,423.10 244.92,423.12 245.18,423.14 245.44,423.15 245.70,423.15 245.96,423.15 246.11,423.14 246.37,423.13 246.63,423.11 246.89,423.10 247.15,423.07 247.41,423.05 247.67,423.02 247.92,422.99 248.18,422.95 248.44,422.92 248.70,422.88 248.96,422.84 249.22,422.80 249.48,422.76 249.74,422.72 249.99,422.67 250.25,422.63 250.51,422.59 250.77,422.54 251.03,422.50 251.29,422.46 251.55,422.42 251.81,422.38 252.06,422.34 252.32,422.31 252.58,422.27 252.84,422.24 253.10,422.21 253.36,422.19 253.62,422.17 253.88,422.15 254.13,422.13 254.39,422.12 254.65,422.11 254.91,422.11 255.17,422.11 255.19,422.12 255.45,422.13 255.71,422.14 255.97,422.17 256.23,422.19 256.49,422.23 256.75,422.26 257.01,422.31 257.26,422.36 257.52,422.42 257.78,422.49 258.04,422.56 258.30,422.64 258.56,422.74 258.82,422.84 259.08,422.95 259.33,423.07 259.59,423.20 259.85,423.35 260.11,423.50 260.19,423.55 260.45,423.72 260.71,423.91 260.96,424.12 261.22,424.35 261.48,424.60 261.74,424.86 262.00,425.13 262.26,425.41 262.52,425.69 262.78,425.98 263.03,426.26 263.29,426.55 263.55,426.82 263.81,427.09 264.07,427.35 264.33,427.60 264.59,427.83 264.85,428.04 265.11,428.23 265.36,428.40 265.49,428.47 265.75,428.57 266.01,428.67 266.27,428.75 266.53,428.82 266.79,428.89 267.05,428.95 267.30,429.00 267.56,429.05 267.82,429.08 268.08,429.12 268.34,429.14 268.60,429.17 268.86,429.18 269.12,429.20 269.37,429.21 269.63,429.22 269.89,429.23 270.15,429.23 270.41,429.24 270.67,429.24 270.93,429.24 271.19,429.25 271.44,429.25 271.70,429.26 271.96,429.27 272.22,429.28 272.35,429.29 272.61,429.30 272.87,429.31 273.13,429.32 273.38,429.32 273.64,429.33 273.90,429.33 274.16,429.34 274.42,429.34 274.68,429.35 274.94,429.35 275.20,429.35 275.45,429.35 275.71,429.35 275.97,429.35 276.23,429.35 276.49,429.35 276.75,429.35 277.01,429.35 277.27,429.34 277.52,429.34 277.78,429.34 278.04,429.34 278.30,429.33 278.56,429.33 278.82,429.33 279.08,429.32 279.34,429.32 279.59,429.32 279.85,429.31 280.11,429.31 280.37,429.31 280.63,429.30 280.89,429.30 281.15,429.30 281.41,429.30 281.66,429.29 281.92,429.29 282.18,429.29 282.44,429.29 282.70,429.29" fill="none" stroke="#222" stroke-width="1.2" stroke-linejoin="round" stroke-dasharray="3 1.2 1 1.2"/>
<polyline points="215.42,417.40 215.68,417.43 215.94,417.46 216.20,417.49 216.46,417.53 216.72,417.57 216.98,417.61 217.24,417.66 217.50,417.71 217.75,417.77 218.01,417.84 218.27,417.92 218.53,418.01 218.79,418.11 219.05,418.22 219.31,418.26 219.56,418.31 219.82,418.35 220.08,418.40 220.34,418.45 220.60,418.50 220.86,418.56 221.12,418.61 221.38,418.67 221.63,418.73 221.89,418.79 222.15,418.85 222.41,418.91 222.67,418.98 222.93,419.04 223.19,419.11 223.45,419.17 223.70,419.24 223.96,419.31 224.22,419.37 224.48,419.44 224.74,419.51 225.00,419.58 225.26,419.65 225.52,419.72 225.77,419.78 226.03,419.85 226.29,419.92 226.55,419.99 226.81,420.06 227.07,420.12 227.33,420.19 227.59,420.25 227.84,420.32 228.10,420.38 228.36,420.44 228.62,420.50 228.88,420.56 229.14,420.62 229.40,420.68 229.66,420.74 229.91,420.79 230.17,420.85 230.43,420.90 230.69,420.95 230.95,421.01 231.21,421.06 231.47,421.11 231.73,421.16 231.98,421.21 232.24,421.26 232.50,421.31 232.76,421.36 233.02,421.41 233.28,421.46 233.54,421.51 233.80,421.56 234.06,421.61 234.31,421.66 234.57,421.70 234.83,421.75 235.09,421.80 235.35,421.85 235.61,421.90 235.87,421.95 236.12,422.00 236.38,422.05 236.64,422.10 236.90,422.15 237.16,422.20 237.42,422.25 237.68,422.30 237.94,422.35 238.19,422.40 238.45,422.46 238.71,422.51 238.97,422.56 239.23,422.62 239.49,422.67 239.75,422.73 240.01,422.80 240.26,422.86 240.52,422.93 240.78,422.99 241.04,423.06 241.30,423.13 241.56,423.20 241.82,423.27 242.08,423.34 242.33,423.40 242.59,423.47 242.85,423.54 243.11,423.62 243.37,423.69 243.63,423.76 243.89,423.83 244.15,423.90 244.40,423.97 244.66,424.04 244.92,424.12 245.18,424.19 245.44,424.26 245.70,424.33 245.96,424.41 246.22,424.48 246.47,424.55 246.73,424.63 246.99,424.70 247.25,424.78 247.51,424.85 247.77,424.92 248.03,425.00 248.29,425.07 248.54,425.15 248.70,425.19 248.96,425.28 249.22,425.36 249.48,425.45 249.74,425.54 249.99,425.63 250.25,425.72 250.51,425.81 250.77,425.90 251.03,426.00 251.29,426.09 251.55,426.18 251.81,426.28 252.06,426.37 252.32,426.46 252.58,426.56 252.84,426.65 253.10,426.74 253.36,426.83 253.62,426.92 253.88,427.01 254.13,427.10 254.39,427.19 254.65,427.28 254.91,427.36 255.17,427.45 255.43,427.53 255.69,427.61 255.95,427.69 256.20,427.77 256.46,427.85 256.49,427.85 256.75,427.93 257.01,428.01 257.26,428.08 257.52,428.16 257.78,428.23 258.04,428.31 258.30,428.38 258.56,428.46 258.82,428.53 259.08,428.60 259.33,428.68 259.59,428.75 259.85,428.82 260.11,428.88 260.37,428.95 260.63,429.02 260.89,429.08 261.15,429.14 261.40,429.20 261.66,429.26 261.92,429.32 262.18,429.37 262.44,429.42 262.70,429.47 262.96,429.52 263.22,429.56 263.47,429.60 263.73,429.64 263.99,429.67 264.20,429.70 264.46,429.74 264.72,429.77 264.98,429.80 265.23,429.81 265.49,429.83 265.75,429.83 266.01,429.84 266.27,429.84 266.53,429.83 266.79,429.82 267.05,429.81 267.30,429.80 267.56,429.79 267.82,429.77 268.08,429.76 268.34,429.74 268.60,429.73 268.86,429.72 269.12,429.71 269.37,429.70 269.63,429.70 269.76,429.70" fill="none" stroke="#333" stroke-width="1.0" stroke-linejoin="round" stroke-dasharray="1.5 1.5"/>
<line x1="78.20" y1="367.35" x2="287.30" y2="283.13" stroke="#111" stroke-width="1.3" stroke-dasharray="4 2.2"/>
<line x1="78.20" y1="367.35" x2="287.30" y2="293.29" stroke="#111" stroke-width="1.5" />
<circle cx="78.20" cy="367.35" r="3.2" fill="#000"/>
<circle cx="104.34" cy="355.51" r="3.2" fill="#000"/>
<circle cx="167.07" cy="333.83" r="3.2" fill="#000"/>
<circle cx="214.12" cy="315.50" r="3.2" fill="#000"/>
<circle cx="262.21" cy="287.95" r="3.2" fill="#000"/>
<rect x="75.10" y="364.25" width="6.2" height="6.2" fill="#000"/>
<rect x="101.24" y="356.71" width="6.2" height="6.2" fill="#000"/>
<rect x="114.04" y="347.07" width="6.2" height="6.2" fill="#000"/>
<rect x="139.40" y="342.25" width="6.2" height="6.2" fill="#000"/>
<rect x="163.97" y="331.78" width="6.2" height="6.2" fill="#000"/>
<rect x="211.02" y="317.11" width="6.2" height="6.2" fill="#000"/>
<rect x="259.11" y="298.47" width="6.2" height="6.2" fill="#000"/>
<polyline points="388.20,300.20 390.16,300.33 392.11,300.47 394.07,300.63 396.02,300.81 397.98,301.01 399.93,301.23 401.89,301.49 403.84,301.77 405.80,302.09 407.75,302.45 409.71,302.85 411.67,303.30 413.62,303.80 415.58,304.36 417.53,304.98 419.49,305.68 421.44,306.46 423.40,307.32 425.35,308.28 427.31,309.35 429.26,310.53 431.22,311.84 433.18,313.28 435.13,314.87 437.09,316.61 439.04,318.52 441.00,320.60 442.95,322.86 444.91,325.32 446.86,327.97 448.82,330.82 450.77,333.87 452.73,337.12 454.69,340.56 456.64,344.19 458.60,347.99 460.55,351.94 462.51,356.04 464.46,360.25 466.42,364.54 468.37,368.90 470.33,373.29 472.28,377.68 474.24,382.03 476.20,386.33 478.15,390.54 480.11,394.63 482.06,398.59 484.02,402.39 485.97,406.02 487.93,409.46 489.88,412.71 491.84,415.76 493.79,418.61 495.75,421.26 497.71,423.72 499.66,425.98 501.62,428.06 503.57,429.97 505.53,431.71 507.48,433.30 509.44,434.74 511.39,436.05 513.35,437.23 515.30,438.29 517.26,439.25 519.22,440.12 521.17,440.90 523.13,441.59 525.08,442.22 527.04,442.78 528.99,443.28 530.95,443.73 532.90,444.13 534.86,444.49 536.81,444.81 538.77,445.09 540.73,445.34 542.68,445.57 544.64,445.77 546.59,445.95 548.55,446.11 550.50,446.25 552.46,446.38 554.41,446.49 556.37,446.59 558.32,446.68 560.28,446.76 562.24,446.83 564.19,446.89 566.15,446.95 568.10,447.00 570.06,447.04 572.01,447.08 573.97,447.11 575.92,447.14 577.88,447.17 579.83,447.20 581.79,447.22 583.75,447.24 585.70,447.25 587.66,447.27 589.61,447.28 591.57,447.29 593.52,447.30 595.48,447.31 597.43,447.32 599.39,447.33 601.34,447.34 603.30,447.34" fill="none" stroke="#111" stroke-width="1.4" stroke-linejoin="round" />
<rect x="388.2" y="261.6" width="215.09999999999997" height="215.2" fill="none" stroke="#1a1a1a" stroke-width="1.6"/>
<line x1="381.60" y1="476.80" x2="388.20" y2="476.80" stroke="#1a1a1a" stroke-width="1.5" />
<text x="379.40" y="482.80" font-size="15.3" text-anchor="end" font-weight="normal" font-style="normal" fill="#111" transform="translate(379.40 482.80) scale(1.0 1.06) translate(-379.40 -482.80)" >0.00</text>
<line x1="381.60" y1="405.07" x2="388.20" y2="405.07" stroke="#1a1a1a" stroke-width="1.5" />
<text x="379.40" y="411.07" font-size="15.3" text-anchor="end" font-weight="normal" font-style="normal" fill="#111" transform="translate(379.40 411.07) scale(1.0 1.06) translate(-379.40 -411.07)" >0.05</text>
<line x1="381.60" y1="333.33" x2="388.20" y2="333.33" stroke="#1a1a1a" stroke-width="1.5" />
<text x="379.40" y="339.33" font-size="15.3" text-anchor="end" font-weight="normal" font-style="normal" fill="#111" transform="translate(379.40 339.33) scale(1.0 1.06) translate(-379.40 -339.33)" >0.10</text>
<line x1="381.60" y1="261.60" x2="388.20" y2="261.60" stroke="#1a1a1a" stroke-width="1.5" />
<text x="379.40" y="267.60" font-size="15.3" text-anchor="end" font-weight="normal" font-style="normal" fill="#111" transform="translate(379.40 267.60) scale(1.0 1.06) translate(-379.40 -267.60)" >0.15</text>
<line x1="407.75" y1="476.80" x2="407.75" y2="483.60" stroke="#1a1a1a" stroke-width="1.5" />
<text x="407.75" y="500.80" font-size="15.3" text-anchor="middle" font-weight="normal" font-style="normal" fill="#111" transform="translate(407.75 500.80) scale(1.0 1.06) translate(-407.75 -500.80)" >3.0</text>
<line x1="466.42" y1="476.80" x2="466.42" y2="483.60" stroke="#1a1a1a" stroke-width="1.5" />
<text x="466.42" y="500.80" font-size="15.3" text-anchor="middle" font-weight="normal" font-style="normal" fill="#111" transform="translate(466.42 500.80) scale(1.0 1.06) translate(-466.42 -500.80)" >4.5</text>
<line x1="525.08" y1="476.80" x2="525.08" y2="483.60" stroke="#1a1a1a" stroke-width="1.5" />
<text x="525.08" y="500.80" font-size="15.3" text-anchor="middle" font-weight="normal" font-style="normal" fill="#111" transform="translate(525.08 500.80) scale(1.0 1.06) translate(-525.08 -500.80)" >6.0</text>
<line x1="583.75" y1="476.80" x2="583.75" y2="483.60" stroke="#1a1a1a" stroke-width="1.5" />
<text x="583.75" y="500.80" font-size="15.3" text-anchor="middle" font-weight="normal" font-style="normal" fill="#111" transform="translate(583.75 500.80) scale(1.0 1.06) translate(-583.75 -500.80)" >7.5</text>
<text transform="translate(335.90 368.60) rotate(-90)" x="0" y="0" font-size="17" text-anchor="middle" font-weight="bold" font-style="italic" fill="#111"><tspan>K</tspan><tspan font-size="12.5" dy="4.3" dx="-0.8">sv</tspan></text>
<text x="496.00" y="523.30" font-size="17" text-anchor="middle" font-weight="bold" font-style="normal" fill="#111" >pH</text>
<text x="400.60" y="289.60" font-size="26.3" text-anchor="start" font-weight="bold" font-style="normal" fill="#111" >d</text>
<circle cx="402.00" cy="298.80" r="3.5" fill="#000"/>
<circle cx="453.90" cy="349.50" r="3.5" fill="#000"/>
<circle cx="466.40" cy="351.90" r="3.5" fill="#000"/>
<circle cx="481.90" cy="385.30" r="3.5" fill="#000"/>
<circle cx="478.20" cy="393.10" r="3.5" fill="#000"/>
<circle cx="491.80" cy="406.20" r="3.5" fill="#000"/>
<circle cx="501.70" cy="417.40" r="3.5" fill="#000"/>
<circle cx="499.60" cy="444.80" r="3.5" fill="#000"/>
<circle cx="507.40" cy="442.20" r="3.5" fill="#000"/>
<circle cx="521.00" cy="443.50" r="3.5" fill="#000"/>
<circle cx="525.20" cy="434.90" r="3.5" fill="#000"/>
<circle cx="547.90" cy="449.20" r="3.5" fill="#000"/>
<circle cx="584.40" cy="447.00" r="3.5" fill="#000"/>
<circle cx="599.60" cy="443.10" r="3.5" fill="#000"/>
<circle cx="603.50" cy="438.60" r="3.5" fill="#000"/>
<rect x="496.8" y="270.8" width="91.49999999999994" height="91.89999999999998" fill="#fff" stroke="#aaa" stroke-width="1"/>
<line x1="496.80" y1="270.80" x2="496.80" y2="362.70" stroke="#888" stroke-width="1" />
<line x1="496.80" y1="362.70" x2="588.30" y2="362.70" stroke="#888" stroke-width="1" />
<line x1="494.80" y1="362.70" x2="496.80" y2="362.70" stroke="#888" stroke-width="1" />
<text x="492.80" y="368.00" font-size="14.6" text-anchor="end" font-weight="normal" font-style="normal" fill="#111" transform="translate(492.80 368.00) scale(1.0 1.02) translate(-492.80 -368.00)" >0</text>
<line x1="494.80" y1="332.07" x2="496.80" y2="332.07" stroke="#888" stroke-width="1" />
<text x="492.80" y="337.37" font-size="14.6" text-anchor="end" font-weight="normal" font-style="normal" fill="#111" transform="translate(492.80 337.37) scale(1.0 1.02) translate(-492.80 -337.37)" >2</text>
<line x1="494.80" y1="301.43" x2="496.80" y2="301.43" stroke="#888" stroke-width="1" />
<text x="492.80" y="306.73" font-size="14.6" text-anchor="end" font-weight="normal" font-style="normal" fill="#111" transform="translate(492.80 306.73) scale(1.0 1.02) translate(-492.80 -306.73)" >4</text>
<line x1="494.80" y1="270.80" x2="496.80" y2="270.80" stroke="#888" stroke-width="1" />
<text x="492.80" y="276.10" font-size="14.6" text-anchor="end" font-weight="normal" font-style="normal" fill="#111" transform="translate(492.80 276.10) scale(1.0 1.02) translate(-492.80 -276.10)" >6</text>
<line x1="496.80" y1="362.70" x2="496.80" y2="364.70" stroke="#888" stroke-width="1" />
<text x="496.80" y="380.90" font-size="14.6" text-anchor="middle" font-weight="normal" font-style="normal" fill="#111" transform="translate(496.80 380.90) scale(1.0 1.02) translate(-496.80 -380.90)" >0</text>
<line x1="522.94" y1="362.70" x2="522.94" y2="364.70" stroke="#888" stroke-width="1" />
<text x="522.94" y="380.90" font-size="14.6" text-anchor="middle" font-weight="normal" font-style="normal" fill="#111" transform="translate(522.94 380.90) scale(1.0 1.02) translate(-522.94 -380.90)" >20</text>
<line x1="549.09" y1="362.70" x2="549.09" y2="364.70" stroke="#888" stroke-width="1" />
<text x="549.09" y="380.90" font-size="14.6" text-anchor="middle" font-weight="normal" font-style="normal" fill="#111" transform="translate(549.09 380.90) scale(1.0 1.02) translate(-549.09 -380.90)" >40</text>
<line x1="575.23" y1="362.70" x2="575.23" y2="364.70" stroke="#888" stroke-width="1" />
<text x="575.23" y="380.90" font-size="14.6" text-anchor="middle" font-weight="normal" font-style="normal" fill="#111" transform="translate(575.23 380.90) scale(1.0 1.02) translate(-575.23 -380.90)" >60</text>
<line x1="496.80" y1="347.38" x2="556.80" y2="270.80" stroke="#777" stroke-width="0.9" />
<line x1="496.80" y1="347.38" x2="588.30" y2="276.93" stroke="#777" stroke-width="0.9" />
<line x1="496.80" y1="347.38" x2="588.30" y2="326.55" stroke="#333" stroke-width="1.1" stroke-dasharray="3 2"/>
<circle cx="503.40" cy="337.90" r="1.7" fill="#000"/>
<circle cx="512.40" cy="330.40" r="1.7" fill="#000"/>
<circle cx="518.50" cy="322.80" r="1.7" fill="#000"/>
<circle cx="530.50" cy="303.60" r="1.7" fill="#000"/>
<circle cx="542.70" cy="284.40" r="1.7" fill="#000"/>
<path d="M506.10,339.70 L508.10,343.20 L504.10,343.20 Z" fill="#111"/>
<path d="M516.30,329.80 L518.30,333.30 L514.30,333.30 Z" fill="#111"/>
<path d="M519.20,320.80 L521.20,324.30 L517.20,324.30 Z" fill="#111"/>
<path d="M529.10,325.00 L531.10,328.50 L527.10,328.50 Z" fill="#111"/>
<path d="M541.80,313.30 L543.80,316.80 L539.80,316.80 Z" fill="#111"/>
<path d="M565.30,291.40 L567.30,294.90 L563.30,294.90 Z" fill="#111"/>
<line x1="565.30" y1="289.00" x2="565.30" y2="293.00" stroke="#333" stroke-width="0.8" />
<line x1="564.00" y1="289.00" x2="566.60" y2="289.00" stroke="#333" stroke-width="0.8" />
<circle cx="503.40" cy="345.80" r="1.5" fill="#000"/>
<circle cx="507.00" cy="345.00" r="1.5" fill="#000"/>
<circle cx="512.00" cy="344.50" r="1.5" fill="#000"/>
<circle cx="518.50" cy="343.00" r="1.5" fill="#000"/>
<circle cx="530.30" cy="340.70" r="1.5" fill="#000"/>
<circle cx="542.70" cy="338.10" r="1.5" fill="#000"/>
<circle cx="554.00" cy="334.70" r="1.5" fill="#000"/>
<circle cx="565.30" cy="330.60" r="1.5" fill="#000"/>
<circle cx="578.20" cy="327.20" r="1.5" fill="#000"/>
<circle cx="496.80" cy="347.38" r="2" fill="#000"/>
<text x="498.80" y="283.70" font-size="13" text-anchor="start" font-weight="normal" font-style="normal" fill="#111" >pH 2.85</text>
<text x="542.90" y="320.50" font-size="13" text-anchor="start" font-weight="normal" font-style="normal" fill="#111" >pH 4.90</text>
<text x="542.90" y="354.40" font-size="13" text-anchor="start" font-weight="normal" font-style="normal" fill="#111" >pH 7.51</text>
<text transform="translate(476.00 312.20) rotate(-90)" x="0" y="0" font-size="14.5" text-anchor="middle" font-weight="bold" font-style="normal" fill="#111">I<tspan font-size="10.5" dy="3">0</tspan><tspan dy="-3">/I</tspan><tspan font-size="10.5" dy="3">f</tspan></text>
<text x="541.50" y="400.80" font-size="15" text-anchor="middle" font-weight="bold" font-style="normal" fill="#111" >[Fe(III)PPIX] / μM</text>
</svg>
</body></html>
